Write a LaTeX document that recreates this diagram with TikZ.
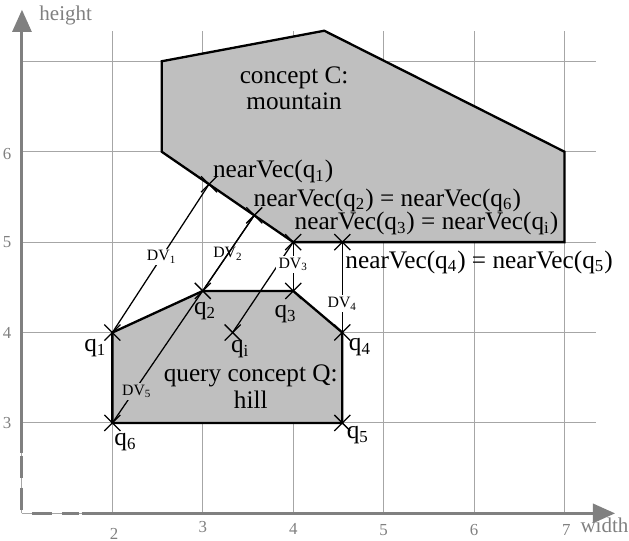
\documentclass[tikz,border=0pt,12pt]{standalone}
\usepackage{fontspec}
\setmainfont{Liberation Serif}
\usetikzlibrary{arrows.meta,positioning,calc,shapes.misc}
\tikzset{
  % Background grid and axes (gray)
  gridline/.style={draw=black!35, line width=0.5pt},
  axisline/.style={draw=black!50, line width=1.4pt, -{Triangle[length=10.5pt,width=9pt]}},
  axisdash/.style={draw=black!50, line width=1.4pt},
  axislabel/.style={text=black!50, font=\footnotesize, inner sep=0pt, anchor=base west},
  ticklabel/.style={text=black!50, font=\scriptsize, inner sep=0pt},
  % Concept region: gray fill, heavy outline
  region/.style={draw, fill=black!25, line width=1.1pt},
  regiontext/.style={align=center, inner sep=0pt, font=\fontsize{12}{12.5}\selectfont},
  % Vector point: small cross
  vpoint/.style={draw, cross out, minimum size=7pt, inner sep=0pt, line width=0.6pt},
  % Distance vectors
  dvline/.style={line width=0.6pt},
  dvlabel/.style={font=\fontsize{7.5}{8}\selectfont, inner sep=1pt},
  % Point labels
  qlabel/.style={inner sep=0pt},
  veclabel/.style={anchor=base west, inner sep=0pt}
}

\begin{document}
\begin{tikzpicture}[x=1.51cm, y=1.51cm]
\useasboundingbox (0.757,1.698) rectangle (7.714,7.678);

% ============== GRID ==============
\draw[gridline, step=1] (1,2) grid (7.35,7.33);

% ============== AXES ==============
\coordinate (o) at (1,2);
\coordinate (ydash) at (1,2.67);
\coordinate (xdash) at (1.66,2);
\coordinate (ytop) at (1,7.57);
\coordinate (xend) at (7.56,2);
% dashed stubs near the origin
\draw[axisdash, dash pattern=on 10.4pt off 4.7pt on 10.9pt off 30pt, dash phase=54.6pt] (ydash) -- (o);
\draw[axisdash, dash pattern=on 8pt off 4.7pt on 9.5pt off 30pt, dash phase=50.8pt] (xdash) -- (o);
\draw[axisline] (ydash) -- (ytop);
\draw[axisline] (xdash) -- (xend);
\node[axislabel] (hlabel) at (1.188,7.449) {height};
\node[axislabel] (wlabel) at (7.173,1.79) {width};

% tick numbers
\node[ticklabel] (tx2) at (2.02,1.775) {2};
\node[ticklabel] (tx3) at (3,1.845) {3};
\node[ticklabel] (tx4) at (4,1.83) {4};
\node[ticklabel] (tx5) at (5,1.82) {5};
\node[ticklabel] (tx6) at (6,1.82) {6};
\node[ticklabel] (tx7) at (7.02,1.82) {7};
\node[ticklabel] (ty3) at (0.835,3) {3};
\node[ticklabel] (ty4) at (0.835,4) {4};
\node[ticklabel] (ty5) at (0.835,5) {5};
\node[ticklabel] (ty6) at (0.835,5.97) {6};

% ============== CONCEPT C: MOUNTAIN ==============
\coordinate (c1) at (2.545,6);
\coordinate (c2) at (2.545,7);
\coordinate (c3) at (4.344,7.338);
\coordinate (c4) at (7,6);
\coordinate (c5) at (7,5);
\coordinate (nv3) at (4,5);
\draw[region] (c1) -- (c2) -- (c3) -- (c4) -- (c5) -- (nv3) -- cycle;
\node[regiontext] (ctext) at (4.01,6.70) {concept C:\\mountain};

% nearest vectors on the border of C
\coordinate (nv1) at ($(c1)!0.36!(nv3)$);
\coordinate (nv2) at ($(c1)!0.704!(nv3)$);
\coordinate (nv4) at (4.543,5);

% ============== QUERY CONCEPT Q: HILL ==============
\coordinate (q1) at (2,4);
\coordinate (q2) at (3,4.46);
\coordinate (q3) at (4,4.46);
\coordinate (q4) at (4.543,4);
\coordinate (q5) at (4.543,3);
\coordinate (q6) at (2,3);
\coordinate (qi) at (3.33,4);
\draw[region] (q1) -- (q2) -- (q3) -- (q4) -- (q5) -- (q6) -- cycle;
\node[regiontext] (qtext) at (3.53,3.40) {query concept Q:\\hill};

% ============== DISTANCE VECTORS ==============
\draw[dvline] (q1) -- node[dvlabel, fill=white, pos=0.51] (dv1) {DV\textsubscript{1}} (nv1);
\draw[dvline] (q2) -- node[dvlabel, pos=0.49] (dv2) {DV\textsubscript{2}} (nv2);
\draw[dvline] (q6) -- node[dvlabel, fill=black!25, pos=0.15, xshift=1.5pt] (dv5) {DV\textsubscript{5}} (nv2);
\draw[dvline] (qi) -- (nv3);
\draw[dvline] (q3) -- node[dvlabel, fill=white, pos=0.54] (dv3) {DV\textsubscript{3}} (nv3);
\draw[dvline] (q4) -- node[dvlabel, fill=white, pos=0.317] (dv4) {DV\textsubscript{4}} (nv4);

% cross marks
\node[vpoint] (xq1) at (q1) {};
\node[vpoint] (xq2) at (q2) {};
\node[vpoint] (xq3) at (q3) {};
\node[vpoint] (xq4) at (q4) {};
\node[vpoint] (xq5) at (q5) {};
\node[vpoint] (xq6) at (q6) {};
\node[vpoint] (xqi) at (qi) {};
\node[vpoint] (xnv1) at (nv1) {};
\node[vpoint] (xnv2) at (nv2) {};
\node[vpoint] (xnv3) at (nv3) {};
\node[vpoint] (xnv4) at (nv4) {};

% point labels
\node[qlabel] (lq1) at ($(q1)+(-8.1pt,-7.6pt)$) {q\textsubscript{1}};
\node[qlabel] (lq2) at ($(q2)+(1.1pt,-9.6pt)$) {q\textsubscript{2}};
\node[qlabel] (lq3) at ($(q3)+(-3.6pt,-11pt)$) {q\textsubscript{3}};
\node[qlabel] (lq4) at ($(q4)+(8.4pt,-6.8pt)$) {q\textsubscript{4}};
\node[qlabel] (lq5) at ($(q5)+(7.4pt,-5.7pt)$) {q\textsubscript{5}};
\node[qlabel] (lq6) at ($(q6)+(6.2pt,-9pt)$) {q\textsubscript{6}};
\node[qlabel] (lqi) at ($(qi)+(3.6pt,-7.9pt)$) {q\textsubscript{i}};

\node[veclabel] (lnv1) at ($(nv1)+(1.7pt,3.1pt)$) {nearVec(q\textsubscript{1})};
\node[veclabel] (lnv2) at ($(nv2)+(-0.5pt,4.4pt)$) {nearVec(q\textsubscript{2}) = nearVec(q\textsubscript{6})};
\node[veclabel] (lnv3) at ($(nv3)+(0.5pt,6pt)$) {nearVec(q\textsubscript{3}) = nearVec(q\textsubscript{i})};
\node[veclabel] (lnv4) at ($(nv4)+(1.3pt,-12.4pt)$) {nearVec(q\textsubscript{4}) = nearVec(q\textsubscript{5})};

\end{tikzpicture}
\end{document}
